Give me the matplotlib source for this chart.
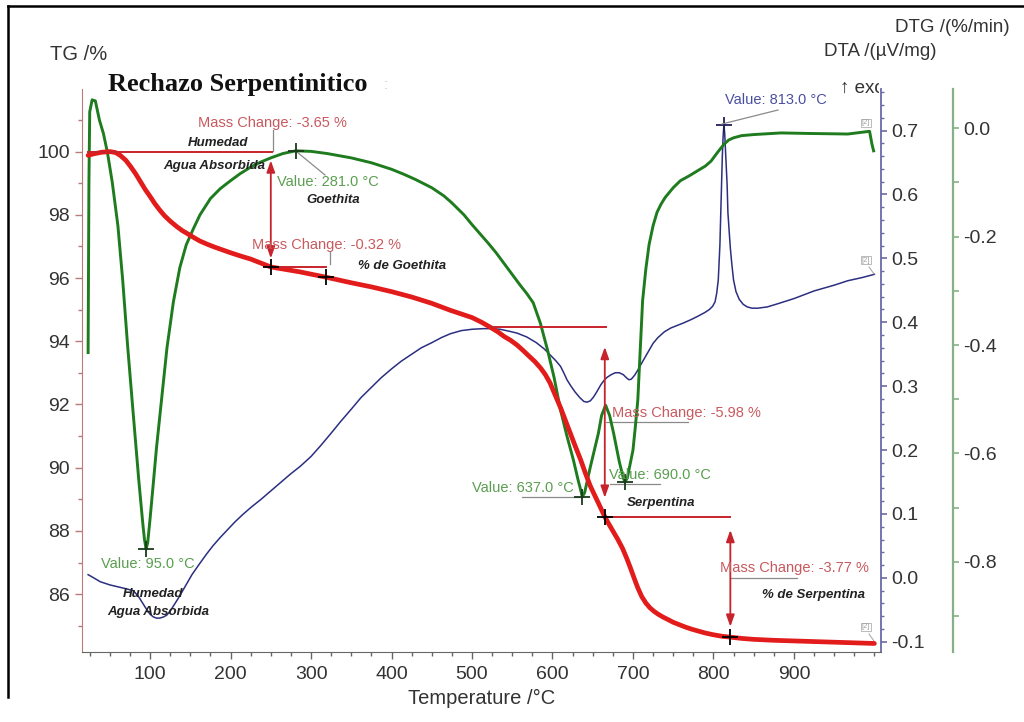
import matplotlib
matplotlib.use("Agg")
import matplotlib.pyplot as plt
from matplotlib.ticker import MultipleLocator, FormatStrFormatter
from matplotlib.lines import Line2D
from matplotlib.transforms import Bbox

plt.rcParams['font.family'] = ['Liberation Sans', 'DejaVu Sans']
plt.rcParams['axes.unicode_minus'] = False

# ---------------- data ----------------
tg_T = [23, 30, 40, 50, 57, 63, 70, 76, 82, 88, 94, 100, 106, 112, 118, 125, 133,
        140, 148, 155, 162, 171, 180, 190, 200, 212, 225, 237, 250, 285, 318, 350,
        375, 400, 425, 450, 473, 500, 512, 523, 532, 540, 548, 556, 563, 570, 578,
        585, 591, 597, 603, 610, 616, 622, 628, 635, 641, 647, 652, 658, 665, 670,
        675, 681, 687, 692, 697, 702, 706, 711, 716, 721, 726, 731, 737, 744, 750,
        758, 765, 772, 780, 790, 799, 810, 821, 835, 850, 875, 900, 950, 1000]
tg_val = [99.88, 99.93, 99.98, 100.0, 99.97, 99.88, 99.72, 99.52, 99.3, 99.05,
          98.8, 98.58, 98.35, 98.15, 97.97, 97.8, 97.63, 97.5, 97.38, 97.27, 97.17,
          97.07, 96.98, 96.89, 96.8, 96.7, 96.6, 96.48, 96.35, 96.2, 96.03, 95.85,
          95.72, 95.57, 95.4, 95.2, 94.98, 94.75, 94.6, 94.44, 94.3, 94.15, 94.03,
          93.88, 93.72, 93.55, 93.36, 93.16, 92.95, 92.68, 92.32, 91.9, 91.5, 91.1,
          90.7, 90.25, 89.82, 89.42, 89.15, 88.83, 88.45, 88.22, 88.0, 87.74, 87.45,
          87.15, 86.82, 86.47, 86.2, 85.92, 85.72, 85.57, 85.46, 85.37, 85.28, 85.19,
          85.11, 85.03, 84.96, 84.9, 84.84, 84.77, 84.72, 84.67, 84.64, 84.6, 84.57,
          84.54, 84.52, 84.48, 84.44]

dta_T = [23, 30, 38, 50, 60, 70, 79, 85, 90, 96, 100, 104, 108, 112, 117, 121, 126,
         131, 136, 141, 147, 152, 162, 170, 178, 187, 196, 205, 215, 226, 237, 250,
         262, 274, 287, 300, 312, 324, 337, 350, 362, 375, 387, 400, 412, 425, 437,
         450, 462, 473, 487, 500, 514, 525, 535, 546, 556, 568, 580, 590, 597, 604,
         610, 614, 618, 623, 628, 634, 639, 643, 647, 651, 655, 660, 664, 668, 673,
         678, 683, 688, 692, 695, 698, 702, 706, 709, 714, 720, 725, 731, 739, 747,
         755, 763, 772, 780, 789, 795, 799, 802, 804, 806, 808, 810, 811, 812, 813,
         814, 815, 817, 818, 820, 821, 823, 825, 828, 832, 837, 842, 848, 855, 867,
         880, 900, 925, 950, 967, 985, 1000]
dta_val = [0.005, 0.0, -0.006, -0.011, -0.014, -0.017, -0.02, -0.028, -0.038, -0.05,
           -0.057, -0.061, -0.063, -0.063, -0.061, -0.058, -0.05, -0.04, -0.03,
           -0.019, -0.006, 0.005, 0.023, 0.037, 0.05, 0.063, 0.075, 0.087, 0.099,
           0.111, 0.122, 0.136, 0.149, 0.162, 0.175, 0.19, 0.207, 0.225, 0.245,
           0.264, 0.282, 0.298, 0.313, 0.327, 0.339, 0.35, 0.36, 0.368, 0.376, 0.382,
           0.387, 0.389, 0.39, 0.39, 0.389, 0.386, 0.383, 0.377, 0.368, 0.358, 0.349,
           0.34, 0.331, 0.321, 0.31, 0.3, 0.291, 0.282, 0.276, 0.275, 0.277, 0.283,
           0.291, 0.302, 0.309, 0.314, 0.318, 0.321, 0.321, 0.318, 0.313, 0.31, 0.311,
           0.317, 0.325, 0.332, 0.343, 0.356, 0.367, 0.376, 0.385, 0.391, 0.395,
           0.399, 0.404, 0.409, 0.415, 0.42, 0.425, 0.432, 0.445, 0.466, 0.52, 0.61,
           0.658, 0.69, 0.709, 0.695, 0.668, 0.615, 0.571, 0.535, 0.516, 0.489, 0.466,
           0.448, 0.436, 0.428, 0.424, 0.422, 0.422, 0.424, 0.429, 0.437, 0.449, 0.458,
           0.465, 0.47, 0.475]

dtg_T = [23, 24, 25, 28, 32, 37, 42, 47, 53, 60, 66, 72, 79, 86, 91, 93, 95, 97,
         100, 104, 108, 115, 121, 129, 137, 145, 154, 162, 175, 187, 200, 212, 225,
         237, 250, 265, 281, 300, 320, 350, 375, 400, 415, 430, 450, 465, 475, 490,
         500, 510, 520, 530, 540, 550, 560, 568, 576, 585, 594, 602, 610, 618, 626,
         632, 635, 637, 640, 647, 657, 661, 666, 671, 676, 683, 688, 690, 693, 700,
         703, 706, 709, 712, 716, 720, 725, 730, 735, 740, 750, 759, 770, 780, 790,
         797, 805, 813, 819, 825, 835, 850, 884, 920, 967, 994, 997, 999]
dtg_val = [-0.414, -0.1, 0.03, 0.052, 0.05, 0.015, -0.01, -0.045, -0.1, -0.18,
           -0.281, -0.4, -0.526, -0.65, -0.73, -0.758, -0.776, -0.765, -0.72, -0.655,
           -0.589, -0.49, -0.405, -0.32, -0.257, -0.215, -0.185, -0.16, -0.13, -0.112,
           -0.097, -0.084, -0.072, -0.063, -0.055, -0.047, -0.042, -0.043, -0.047,
           -0.055, -0.064, -0.076, -0.085, -0.095, -0.11, -0.125, -0.138, -0.16,
           -0.178, -0.195, -0.212, -0.23, -0.25, -0.27, -0.29, -0.305, -0.322, -0.36,
           -0.41, -0.46, -0.52, -0.568, -0.612, -0.65, -0.667, -0.68, -0.672, -0.625,
           -0.563, -0.53, -0.511, -0.53, -0.563, -0.615, -0.645, -0.653, -0.645,
           -0.594, -0.55, -0.502, -0.41, -0.318, -0.26, -0.215, -0.18, -0.155, -0.14,
           -0.128, -0.11, -0.097, -0.088, -0.079, -0.07, -0.061, -0.045, -0.03,
           -0.022, -0.018, -0.014, -0.012, -0.009, -0.01, -0.011, -0.006, -0.03,
           -0.042]

# marked points
tg_mark_T = [250, 318, 665, 821]
tg_mark_val = [96.35, 96.03, 88.45, 84.64]
dtg_peak_T = [95, 281, 637, 690]
dtg_peak_val = [-0.776, -0.042, -0.68, -0.653]
dta_peak_T = [813]
dta_peak_val = [0.709]
mass_changes = [-3.65, -0.32, -5.98, -3.77]

tg_ticks = [86, 88, 90, 92, 94, 96, 98, 100]
x_ticks = [100, 200, 300, 400, 500, 600, 700, 800, 900]
dta_ticks = [-0.1, 0.0, 0.1, 0.2, 0.3, 0.4, 0.5, 0.6, 0.7]
dtg_ticks = [-0.8, -0.6, -0.4, -0.2, 0.0]

# ---------------- figure ----------------
W, H = 1024, 722
fig = plt.figure(figsize=(W / 100, H / 100), dpi=100)


def fx(x):
    return x / W


def fy(y):
    return 1 - y / H


AX_L, AX_R, AX_T, AX_B = 82, 881, 89, 652
ax = fig.add_axes([fx(AX_L), fy(AX_B), (AX_R - AX_L) / W, (AX_B - AX_T) / H])
ax_dta = ax.twinx()
ax_dtg = ax.twinx()
ax.set_zorder(3)
ax_dtg.set_zorder(2)
ax_dta.set_zorder(1)
for a in (ax, ax_dta, ax_dtg):
    a.patch.set_visible(False)

C_TG_SP = '#b87a7a'
C_DTA_SP = '#6a6aa8'
C_DTG_SP = '#88b088'
C_LAB = '#333333'

# spines
for s in ('top', 'right'):
    ax.spines[s].set_visible(False)
ax.spines['left'].set_color(C_TG_SP)
ax.spines['bottom'].set_color('#666666')
for s in ('top', 'left', 'bottom'):
    ax_dta.spines[s].set_visible(False)
    ax_dtg.spines[s].set_visible(False)
ax_dta.spines['right'].set_color(C_DTA_SP)
ax_dta.spines['right'].set_linewidth(1.3)
ax_dtg.spines['right'].set_position(('axes', (953 - AX_L) / (AX_R - AX_L)))
ax_dtg.spines['right'].set_color(C_DTG_SP)
ax_dtg.spines['right'].set_linewidth(1.6)

# limits
ax.set_xlim(15.4, 1008.2)
ax.set_ylim(84.17, 101.98)
ax_dta.set_ylim(-0.116, 0.765)
ax_dtg.set_ylim(-0.966, 0.072)

# ticks
ax.set_yticks(tg_ticks)
ax.yaxis.set_minor_locator(MultipleLocator(1))
ax.set_xticks(x_ticks)
ax.xaxis.set_minor_locator(MultipleLocator(25))
ax_dta.set_yticks(dta_ticks)
ax_dta.yaxis.set_minor_locator(MultipleLocator(0.02))
ax_dta.yaxis.set_major_formatter(FormatStrFormatter('%.1f'))
ax_dtg.set_yticks(dtg_ticks)
ax_dtg.yaxis.set_minor_locator(MultipleLocator(0.1))
ax_dtg.yaxis.set_major_formatter(FormatStrFormatter('%.1f'))

ax.tick_params(axis='y', which='major', direction='out', length=5, width=1,
               color=C_TG_SP, labelsize=14, labelcolor=C_LAB, pad=3.5)
ax.tick_params(axis='y', which='minor', direction='out', length=3, width=1, color=C_TG_SP)
ax.tick_params(axis='x', which='major', direction='out', length=5, width=1,
               color='#666666', labelsize=14, labelcolor=C_LAB, pad=5)
ax.tick_params(axis='x', which='minor', direction='out', length=3, width=1, color='#666666')
ax_dta.tick_params(axis='y', which='major', direction='out', length=4, width=1.2,
                   color=C_DTA_SP, labelsize=14, labelcolor=C_LAB, pad=3.5)
ax_dta.tick_params(axis='y', which='minor', direction='out', length=2.5, width=1,
                   color=C_DTA_SP)
ax_dtg.tick_params(axis='y', which='major', direction='out', length=4, width=1.2,
                   color=C_DTG_SP, labelsize=14, labelcolor=C_LAB, pad=3.5)
ax_dtg.tick_params(axis='y', which='minor', direction='out', length=4, width=1.2,
                   color=C_DTG_SP)

ax.set_xlabel('Temperature /°C', fontsize=14.5, color=C_LAB, labelpad=4)

# curves
ax_dta.plot(dta_T, dta_val, color='#2b2f80', lw=1.1)
ax_dtg.plot(dtg_T, dtg_val, color='#1e7b1e', lw=2.1)
ax.plot(tg_T, tg_val, color='#e21b1b', lw=3.4, solid_capstyle='round')

# annotation red step lines and arrows
RED = '#c8232c'
ax.plot([23, 252], [100.0, 100.0], color=RED, lw=1.4)
ax.plot([250, 318], [tg_mark_val[0], tg_mark_val[0]], color=RED, lw=1.4)
ax.plot([523, 666], [94.44, 94.44], color=RED, lw=1.4)
ax.plot([665, 821], [tg_mark_val[2], tg_mark_val[2]], color=RED, lw=1.4)
arrow_kw = dict(arrowstyle='<|-|>,head_length=0.7,head_width=0.25', color=RED,
                lw=1.3, shrinkA=0, shrinkB=0)
ax.annotate('', xy=(250, 99.72), xytext=(250, 96.62), arrowprops=arrow_kw)
ax.annotate('', xy=(665, 93.82), xytext=(665, 89.05), arrowprops=arrow_kw)
ax.annotate('', xy=(821, 88.03), xytext=(821, 84.97), arrowprops=arrow_kw)

# cross markers
ax.plot(tg_mark_T, tg_mark_val, '+', color='k', ms=12, mew=1.3, zorder=5)
ax_dtg.plot(dtg_peak_T, dtg_peak_val, '+', color='#1a3a1a', ms=11, mew=1.3, zorder=5)
ax_dta.plot(dta_peak_T, dta_peak_val, '+', color='#20205a', ms=11, mew=1.3, zorder=5)

# ---------------- texts ----------------
def T(x, y, s, **kw):
    kw.setdefault('ha', 'left')
    kw.setdefault('va', 'center')
    return fig.text(fx(x), fy(y), s, **kw)


def L(x1, y1, x2, y2, color='#8a8a8a', lw=0.9):
    fig.add_artist(Line2D([fx(x1), fx(x2)], [fy(y1), fy(y2)],
                          transform=fig.transFigure, color=color, lw=lw))


C_MC = '#c85a5e'
C_VAL = '#5a9e50'
C_BLUE = '#4b4fa0'
C_BI = '#222222'
bi = dict(fontsize=9.5, fontweight='bold', fontstyle='italic', color=C_BI)

T(108, 84, 'Rechazo Serpentinitico', fontsize=19, fontweight='bold',
  family=['Liberation Serif', 'DejaVu Serif'], color='#111111')
T(384, 85, ':', fontsize=11, color='#c8c8c8')
T(50, 55, 'TG /%', fontsize=14.5, color=C_LAB)
T(1010, 27, 'DTG /(%/min)', fontsize=13.5, color=C_LAB, ha='right')
T(937, 52, 'DTA /(µV/mg)', fontsize=13.5, color=C_LAB, ha='right')
t_exo = T(840, 88, '↑ exo', fontsize=13.5, color=C_LAB)
t_exo.set_clip_box(Bbox.from_extents(0, 0, 879, H))
t_exo.set_clip_on(True)

T(198, 123, 'Mass Change: %.2f %%' % mass_changes[0], fontsize=10.5, color=C_MC)
L(273, 130, 273, 151)
T(188, 143, 'Humedad', **bi)
T(163, 166, 'Agua Absorbida', **bi)
T(277, 182, 'Value: %.1f °C' % dtg_peak_T[1], fontsize=10.5, color=C_VAL)
L(297, 152, 325, 175)
T(306, 200, 'Goethita', **bi)
T(252, 245, 'Mass Change: %.2f %%' % mass_changes[1], fontsize=10.5, color=C_MC)
L(330, 252, 330, 264)
T(358, 266, '% de Goethita', **bi)

T(612, 413, 'Mass Change: %.2f %%' % mass_changes[2], fontsize=10.5, color=C_MC)
L(606, 422, 688, 422)
T(472, 488, 'Value: %.1f °C' % dtg_peak_T[2], fontsize=10.5, color=C_VAL)
L(522, 497, 582, 497)
T(609, 475, 'Value: %.1f °C' % dtg_peak_T[3], fontsize=10.5, color=C_VAL)
L(610, 484, 660, 484)
T(627, 503, 'Serpentina', **bi)

T(720, 568, 'Mass Change: %.2f %%' % mass_changes[3], fontsize=10.5, color=C_MC)
L(730, 578, 797, 578)
T(762, 595, '% de Serpentina', **bi)

T(101, 564, 'Value: %.1f °C' % dtg_peak_T[0], fontsize=10.5, color=C_VAL)
T(123, 594, 'Humedad', **bi)
T(107, 612, 'Agua Absorbida', **bi)

T(725, 100, 'Value: %.1f °C' % dta_peak_T[0], fontsize=10.5, color=C_BLUE)
L(722, 124, 778, 110)

box = dict(boxstyle='square,pad=0.1', fc='none', ec='#b0b0b0', lw=0.6)
for (bx, by) in [(866, 123), (866, 260), (866, 627)]:
    T(bx, by, '[2]', fontsize=5.5, color='#a0a0a0', ha='center', bbox=box)
L(869, 267, 874, 274, color='#a0a0a0', lw=0.7)
L(869, 634, 874, 641, color='#a0a0a0', lw=0.7)

# outer frame
L(8, 6, 1024, 6, color='k', lw=1.8)
L(8, 6, 8, 697, color='k', lw=1.8)

fig.savefig('out.png', dpi=100, facecolor='white')
